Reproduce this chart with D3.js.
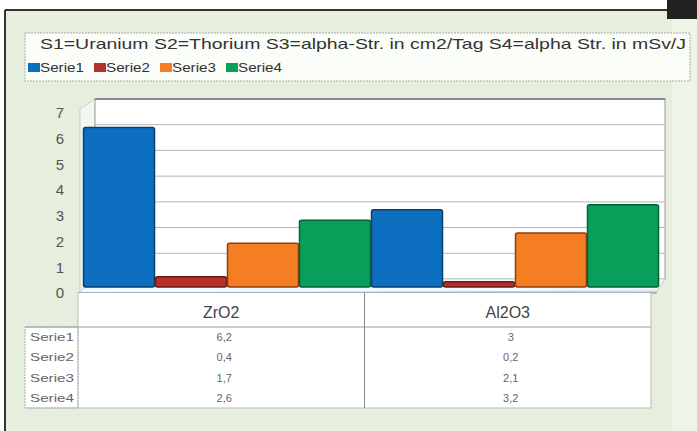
<!DOCTYPE html>
<meta charset="utf-8">
<style>
body { margin: 0; background: #fff; }
svg { font-family: "Liberation Sans", Arial, sans-serif; display: block; }
.axis path { display: none; }
.axis text { font-size: 15px; fill: #555; }
.tbl { font-size: 11px; fill: #666; }
</style>
<svg width="697" height="431"></svg>
<script src="https://d3js.org/d3.v7.min.js"></script>
<script>

// data
var categories = ["ZrO2", "Al2O3"];
var seriesNames = ["Serie1", "Serie2", "Serie3", "Serie4"];
var serie1 = [6.2, 3];
var serie2 = [0.4, 0.2];
var serie3 = [1.7, 2.1];
var serie4 = [2.6, 3.2];
var yTicks = [0, 1, 2, 3, 4, 5, 6, 7];
var titleText = "S1=Uranium S2=Thorium S3=alpha-Str. in cm2/Tag S4=alpha Str. in mSv/J";

var colors = ["#0d6fc0", "#b3302b", "#f57d22", "#07a05b"];
var edges  = ["#08406e", "#6e1a17", "#8a4010", "#05603a"];

var values = [serie1, serie2, serie3, serie4];
var rows = [];
categories.forEach(function(c, ci) {
  seriesNames.forEach(function(s, si) {
    rows.push({cat: c, serie: s, si: si, value: values[si][ci]});
  });
});

var svg = d3.select("svg");

// panel
svg.append("rect").attr("x", 5).attr("y", 10).attr("width", 692).attr("height", 421)
  .attr("fill", "#e6efdd");
svg.append("rect").attr("x", 672).attr("y", 18).attr("width", 25).attr("height", 413)
  .attr("fill", "#edf4e8");
svg.append("line").attr("x1", 5).attr("x2", 667).attr("y1", 10).attr("y2", 10)
  .attr("stroke", "#333").attr("stroke-width", 2);
svg.append("line").attr("x1", 5).attr("x2", 5).attr("y1", 10).attr("y2", 431)
  .attr("stroke", "#333").attr("stroke-width", 2);
svg.append("rect").attr("x", 667).attr("y", 0).attr("width", 30).attr("height", 19)
  .attr("fill", "#222");

// legend box
svg.append("rect").attr("x", 25).attr("y", 33).attr("width", 665).attr("height", 48)
  .attr("fill", "#fbfdf9").attr("stroke", "#aaa").attr("stroke-dasharray", "2,1");
svg.append("text").attr("x", 40).attr("y", 49).attr("font-size", 15).attr("fill", "#333")
  .attr("textLength", 646).attr("lengthAdjust", "spacingAndGlyphs")
  .text(titleText);

var leg = svg.append("g").selectAll("g").data(seriesNames).enter().append("g")
  .attr("transform", function(d, i) { return "translate(" + (28 + i * 66) + ",61)"; });
leg.append("rect").attr("width", 12).attr("height", 9).attr("y", 2)
  .attr("fill", function(d, i) { return colors[i]; });
leg.append("text").attr("x", 12).attr("y", 11).attr("font-size", 13).attr("fill", "#333")
  .attr("textLength", 44).attr("lengthAdjust", "spacingAndGlyphs")
  .text(function(d) { return d; });

// scales (front plane)
var x0 = d3.scaleBand().domain(categories).range([83, 659]).paddingInner(0);
var x1 = d3.scaleBand().domain(seriesNames).range([0, x0.bandwidth()]).padding(0);
var y = d3.scaleLinear().domain([0, 7]).range([287, 107]);

// 3d depth offset of the back wall
var dy = -8;
var wallL = 95, wallR = 665;

// side wall
svg.append("path")
  .attr("d", "M" + 80 + "," + (y(7) + 2) + "L" + wallL + "," + (y(7) + dy) +
             "L" + wallL + "," + (y(0) + dy) + "L" + 80 + "," + (y(0) + 6) + "Z")
  .attr("fill", "#f3f7f0").attr("stroke", "#c8cfc4");

// back wall
svg.append("rect").attr("x", wallL).attr("y", y(7) + dy)
  .attr("width", wallR - wallL).attr("height", y(0) - y(7))
  .attr("fill", "#fff").attr("stroke", "#999");
svg.append("line").attr("x1", wallL).attr("x2", wallR)
  .attr("y1", y(7) + dy).attr("y2", y(7) + dy).attr("stroke", "#888").attr("stroke-width", 2);

svg.append("g").selectAll("line").data(yTicks.filter(function(t) { return t > 0 && t < 7; }))
  .enter().append("line")
  .attr("x1", wallL).attr("x2", wallR)
  .attr("y1", function(d) { return y(d) + dy; })
  .attr("y2", function(d) { return y(d) + dy; })
  .attr("stroke", "#b5b5b5");

// floor
svg.append("path")
  .attr("d", "M" + wallL + "," + (y(0) + dy) + "L" + wallR + "," + (y(0) + dy) +
             "L" + (wallR - 8) + "," + (y(0) + 4) + "L" + 78 + "," + (y(0) + 6) + "Z")
  .attr("fill", "#f4f7fb").attr("stroke", "#ccc");
svg.append("line").attr("x1", 78).attr("x2", wallR - 8)
  .attr("y1", y(0) + 6).attr("y2", y(0) + 6).attr("stroke", "#8ea6b8").attr("stroke-width", 1.5);

// y axis
svg.append("g").attr("class", "axis")
  .attr("transform", "translate(64,6)")
  .call(d3.axisLeft(y).tickValues(yTicks).tickSize(0).tickPadding(0).tickFormat(d3.format("d")));

// bars
svg.append("g").selectAll("rect").data(rows).enter().append("rect")
  .attr("x", function(d) { return x0(d.cat) + x1(d.serie) + 0.5; })
  .attr("y", function(d) { return y(d.value); })
  .attr("width", x1.bandwidth() - 1)
  .attr("height", function(d) { return y(0) - y(d.value); })
  .attr("rx", 2)
  .attr("fill", function(d) { return colors[d.si]; })
  .attr("stroke", function(d) { return edges[d.si]; })
  .attr("stroke-width", 1.5);

// data table
var tTop = 293, tHead = 327, tBot = 408, tLeft = 25, tCol = 78, tRight = 651;
var colX = d3.scaleBand().domain(categories).range([tCol, tRight]);
svg.append("rect").attr("x", tCol).attr("y", tTop).attr("width", tRight - tCol)
  .attr("height", tBot - tTop).attr("fill", "#fff");
svg.append("rect").attr("x", tLeft).attr("y", tHead).attr("width", tCol - tLeft)
  .attr("height", tBot - tHead).attr("fill", "#fff")
  .attr("stroke", "#aaa").attr("stroke-dasharray", "2,1");
svg.append("line").attr("x1", tLeft).attr("x2", tRight).attr("y1", tHead).attr("y2", tHead)
  .attr("stroke", "#999");
svg.append("line").attr("x1", tLeft).attr("x2", tRight).attr("y1", tBot).attr("y2", tBot)
  .attr("stroke", "#bbb");
[tCol, colX("Al2O3"), tRight].forEach(function(xx, i) {
  svg.append("line").attr("x1", xx).attr("x2", xx).attr("y1", tTop).attr("y2", tBot)
    .attr("stroke", i === 1 ? "#888" : "#bbb");
});

svg.append("g").selectAll("text").data(categories).enter().append("text")
  .attr("x", function(d) { return colX(d) + colX.bandwidth() / 2; })
  .attr("y", 318).attr("text-anchor", "middle").attr("font-size", 16).attr("fill", "#444")
  .text(function(d) { return d; });

var rowY = d3.scaleBand().domain(seriesNames).range([tHead, tBot]);
svg.append("g").selectAll("text").data(seriesNames).enter().append("text")
  .attr("class", "tbl").attr("x", 30)
  .attr("y", function(d) { return rowY(d) + rowY.bandwidth() / 2 + 4; })
  .attr("textLength", 44).attr("lengthAdjust", "spacingAndGlyphs")
  .text(function(d) { return d; });

svg.append("g").selectAll("text").data(rows).enter().append("text")
  .attr("class", "tbl").attr("text-anchor", "middle")
  .attr("x", function(d) { return colX(d.cat) + colX.bandwidth() / 2 + 3; })
  .attr("y", function(d) { return rowY(d.serie) + rowY.bandwidth() / 2 + 4; })
  .text(function(d) { return String(d.value).replace(".", ","); });

</script>
